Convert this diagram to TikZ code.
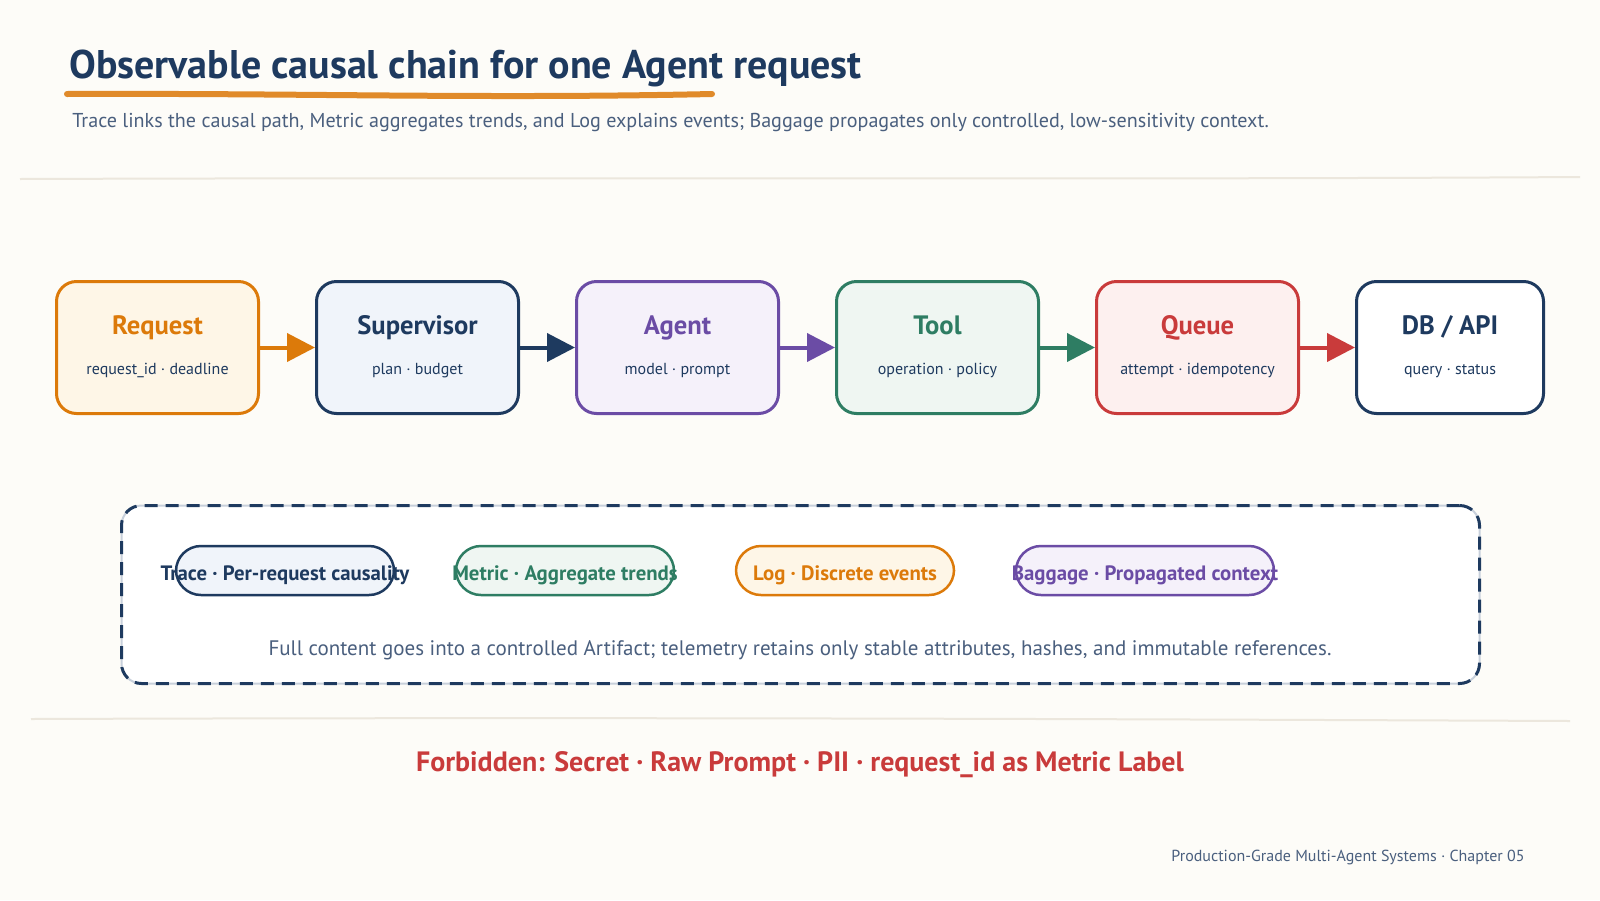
\documentclass[tikz,border=0pt]{standalone}
\usepackage{fontspec}
\setmainfont{PT Sans}
\usetikzlibrary{arrows.meta}
\definecolor{bg}{HTML}{FDFCF8}
\definecolor{navy}{HTML}{1E3A5F}
\definecolor{slate}{HTML}{4A5F7E}
\definecolor{orng}{HTML}{DC7A0A}
\definecolor{orngfill}{HTML}{FEF6E7}
\definecolor{navyfill}{HTML}{F0F4FA}
\definecolor{purp}{HTML}{6B4CA5}
\definecolor{purpfill}{HTML}{F5F1FA}
\definecolor{grn}{HTML}{2E7D63}
\definecolor{grnfill}{HTML}{EFF6F2}
\definecolor{rd}{HTML}{C93B3B}
\definecolor{rdfill}{HTML}{FDF0EF}
\definecolor{sepline}{HTML}{ECE7DD}
\definecolor{uline}{HTML}{E08A2A}
\definecolor{panelgray}{HTML}{C8D0DB}
\begin{document}
\begin{tikzpicture}[x=0.5pt,y=-0.5pt,
  stagebox/.style={draw, line width=1.5pt, rounded corners=10pt, minimum height=66pt, inner sep=0pt},
  boxtitle/.style={font=\fontsize{13.3}{15}\selectfont\bfseries, inner sep=0pt, anchor=base},
  boxsub/.style={font=\fontsize{8}{9.5}\selectfont, text=navy, inner sep=0pt, anchor=base},
  flow/.style={line width=2pt, -{Triangle[length=14pt,width=14pt]}},
  pill/.style={draw, line width=1.25pt, rounded corners=12.5pt, minimum height=24.5pt, inner sep=0pt},
  pilltext/.style={font=\fontsize{10.4}{12}\selectfont\bfseries, inner sep=0pt},
  sepstyle/.style={draw=sepline, line width=1pt}
]
\fill[bg] (0,0) rectangle (1600,900);
\useasboundingbox (0,0) rectangle (1600,900);

% title
\node[anchor=base west, inner sep=0pt, text=navy, font=\fontsize{20}{23}\selectfont\bfseries] (title) at (69,78) {Observable causal chain for one Agent request};
\draw[uline, line width=3pt, line cap=round] (67,94) .. controls (300,93) and (480,99) .. (712,94);
\node[anchor=base west, inner sep=0pt, text=slate, font=\fontsize{10.05}{12}\selectfont] (subtitle) at (72,127) {Trace links the causal path, Metric aggregates trends, and Log explains events; Baggage propagates only controlled, low-sensitivity context.};
\draw[sepstyle] (20,179) .. controls (600,177) and (1100,180) .. (1580,177);

% stages
\node[stagebox, draw=orng, fill=orngfill, minimum width=101pt] (req) at (157.5,347.5) {};
\node[stagebox, draw=navy, fill=navyfill, minimum width=101pt] (sup) at (417.5,347.5) {};
\node[stagebox, draw=purp, fill=purpfill, minimum width=101pt] (agt) at (677.5,347.5) {};
\node[stagebox, draw=grn, fill=grnfill, minimum width=101pt] (tool) at (937.5,347.5) {};
\node[stagebox, draw=rd, fill=rdfill, minimum width=101pt] (que) at (1197.5,347.5) {};
\node[stagebox, draw=navy, fill=white, minimum width=93.5pt] (db) at (1450,347.5) {};

\node[boxtitle, text=orng] (req-t) at (157.5,334) {Request};
\node[boxsub] (req-s) at (157.5,374) {request\_id · deadline};
\node[boxtitle, text=navy] (sup-t) at (417.5,334) {Supervisor};
\node[boxsub] (sup-s) at (417.5,374) {plan · budget};
\node[boxtitle, text=purp] (agt-t) at (677.5,334) {Agent};
\node[boxsub] (agt-s) at (677.5,374) {model · prompt};
\node[boxtitle, text=grn] (tool-t) at (937.5,334) {Tool};
\node[boxsub] (tool-s) at (937.5,374) {operation · policy};
\node[boxtitle, text=rd] (que-t) at (1197.5,334) {Queue};
\node[boxsub] (que-s) at (1197.5,374) {attempt · idempotency};
\node[boxtitle, text=navy] (db-t) at (1450,334) {DB / API};
\node[boxsub] (db-s) at (1450,374) {query · status};

\draw[flow, orng] (req) -- (sup);
\draw[flow, navy] (sup) -- (agt);
\draw[flow, purp] (agt) -- (tool);
\draw[flow, grn] (tool) -- (que);
\draw[flow, rd] (que) -- (db);

% panel
\node[draw=panelgray, line width=1pt, fill=white, rounded corners=10pt, minimum width=679pt, minimum height=89pt, inner sep=0pt] (panelbg) at (800.5,594.5) {};
\node[draw=navy, line width=1.5pt, dash pattern=on 6.5pt off 4pt, rounded corners=10pt, minimum width=679pt, minimum height=89pt, inner sep=0pt] (panel) at (800.5,594.5) {};

\node[pill, draw=navy, fill=navyfill, minimum width=109pt] (p1) at (285,570.5) {};
\node[pill, draw=grn, fill=grnfill, minimum width=109pt] (p2) at (565,570.5) {};
\node[pill, draw=orng, fill=orngfill, minimum width=109pt] (p3) at (845,570.5) {};
\node[pill, draw=purp, fill=purpfill, minimum width=129pt] (p4) at (1145,570.5) {};
\node[pilltext, text=navy] (p1-t) at (285,575) {Trace · Per-request causality};
\node[pilltext, text=grn] (p2-t) at (565,575) {Metric · Aggregate trends};
\node[pilltext, text=orng] (p3-t) at (845,575) {Log · Discrete events};
\node[pilltext, text=purp] (p4-t) at (1145,575) {Baggage · Propagated context};

\node[inner sep=0pt, text=slate, font=\fontsize{10.5}{12.5}\selectfont] (note) at (800,650) {Full content goes into a controlled Artifact; telemetry retains only stable attributes, hashes, and immutable references.};

\draw[sepstyle] (31,719) .. controls (600,717) and (1100,719) .. (1570,721);

\node[inner sep=0pt, text=rd, font=\fontsize{14}{16}\selectfont\bfseries] (forbid) at (800,765) {Forbidden: Secret · Raw Prompt · PII · request\_id as Metric Label};

\node[anchor=base east, inner sep=0pt, text=slate, font=\fontsize{8}{9.5}\selectfont] (footer) at (1525,861) {Production-Grade Multi-Agent Systems · Chapter 05};
\end{tikzpicture}
\end{document}
